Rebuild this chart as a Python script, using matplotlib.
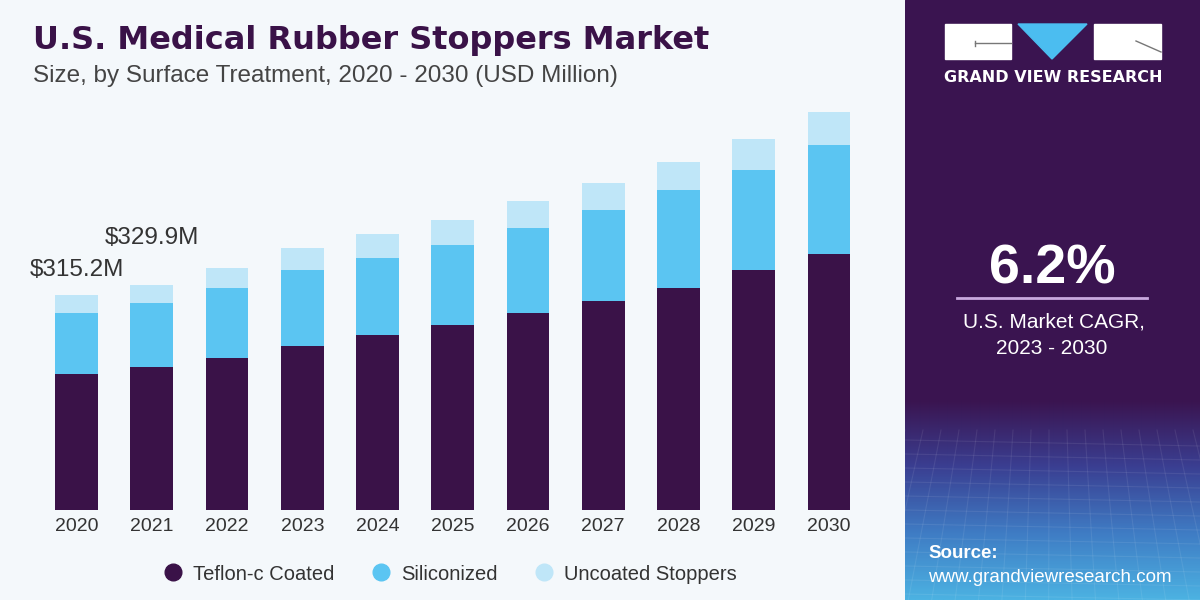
import numpy as np
import matplotlib.pyplot as plt
from matplotlib.lines import Line2D
from matplotlib.patches import Rectangle, Polygon
from matplotlib.colors import LinearSegmentedColormap

years = ['2020', '2021', '2022', '2023', '2024', '2025', '2026', '2027', '2028', '2029', '2030']
teflon = [199.4, 209.6, 222.8, 240.4, 256.6, 271.2, 288.8, 306.4, 325.5, 351.9, 375.3]
silicon = [89.4, 93.9, 102.7, 111.5, 112.8, 117.3, 124.6, 133.4, 143.6, 146.6, 159.8]
uncoated = [26.4, 26.4, 29.3, 32.2, 35.2, 36.7, 39.6, 39.6, 41.1, 45.4, 48.4]
series_names = ['Teflon-c Coated', 'Siliconized', 'Uncoated Stoppers']
labelled = {0: '$315.2M', 1: '$329.9M'}

c_dark = '#3a1248'
c_blue = '#5bc5f2'
c_light = '#bfe6f8'
bg = '#f4f8fb'
panel = '#3a1450'

W, H = 1200, 600
fig = plt.figure(figsize=(12, 6), dpi=100)
fig.patch.set_facecolor(bg)

# bar chart axes, px coords: x 0..905, y from 100 to 510 (from top)
ax = fig.add_axes([0, 90 / H, 905 / W, 410 / H])
ax.set_facecolor(bg)
x = np.arange(len(years))
bw = 0.57
t = np.array(teflon)
s = np.array(silicon)
u = np.array(uncoated)
ax.bar(x, t, bw, color=c_dark, label=series_names[0])
ax.bar(x, s, bw, bottom=t, color=c_blue, label=series_names[1])
ax.bar(x, u, bw, bottom=t + s, color=c_light, label=series_names[2])
ax.set_xlim(-76.5 / 75.25, (905 - 76.5) / 75.25)
ax.set_ylim(0, 601.1)
for sp in ax.spines.values():
    sp.set_visible(False)
ax.set_yticks([])
ax.set_xticks(x)
ax.set_xticklabels(years, fontsize=14, color='#333333', family='Liberation Sans')
ax.tick_params(axis='x', length=0, pad=6)

tot = t + s + u
ax.text(-0.62, tot[0] + 37, labelled[0], ha='left', va='center', fontsize=17.5,
        color='#333333', family='Liberation Sans')
ax.text(0.37, tot[1] + 69, labelled[1], ha='left', va='center', fontsize=17.5,
        color='#333333', family='Liberation Sans')

# titles
fig.text(33 / W, 1 - 40 / H, 'U.S. Medical Rubber Stoppers Market', fontsize=23,
         fontweight='bold', color='#3a1248', family='DejaVu Sans', va='center')
fig.text(33 / W, 1 - 76 / H, 'Size, by Surface Treatment, 2020 - 2030 (USD Million)',
         fontsize=17.5, color='#444444', family='Liberation Sans', va='center')

# legend
cols = [c_dark, c_blue, c_light]
handles = [Line2D([], [], marker='o', ls='', color=c, markersize=12) for c in cols]
fig.legend(handles, series_names, loc='center', bbox_to_anchor=(450 / W, 1 - 574 / H),
           ncol=3, frameon=False, handlelength=1.0, handletextpad=0.5, columnspacing=1.8,
           prop={'family': 'Liberation Sans', 'size': 14.5}, labelcolor='#333333')

# right panel in pixel coords
pax = fig.add_axes([905 / W, 0, 295 / W, 1])
pax.set_xlim(905, 1200)
pax.set_ylim(600, 0)
pax.axis('off')
pax.add_patch(Rectangle((905, 0), 295, 600, color=panel, zorder=0))
cmap = LinearSegmentedColormap.from_list('g', [panel, '#3a3f92', '#3f7cc4', '#4cb2e2'])
grad = np.linspace(0, 1, 200).reshape(-1, 1)
pax.imshow(grad, extent=(905, 1200, 600, 400), cmap=cmap, aspect='auto', zorder=1,
           interpolation='bilinear', origin='upper')
# faint mesh lines
for yy in np.arange(440, 600, 14):
    pax.plot([905, 1200], [yy, yy + 6], color='white', alpha=0.08, lw=0.8, zorder=2)
for xx in np.arange(905, 1200, 18):
    pax.plot([xx, xx + (xx - 1050) * 0.3], [430, 600], color='white', alpha=0.08, lw=0.8, zorder=2)

# logo
pax.add_patch(Rectangle((945, 24), 66, 35, color='white', zorder=3))
pax.add_patch(Rectangle((1094, 24), 67, 35, color='white', zorder=3))
pax.add_patch(Polygon([(1018, 24), (1087, 24), (1052, 59)], color='#4bbdf0', zorder=3))
pax.plot([975, 1011], [43, 43], color='#777777', lw=1, zorder=4)
pax.plot([975, 975], [41, 46], color='#777777', lw=1, zorder=4)
pax.plot([1136, 1161], [41, 52], color='#777777', lw=1, zorder=4)
pax.text(1053, 78, 'GRAND VIEW RESEARCH', ha='center', va='center', color='white',
         fontsize=11.5, fontweight='bold', family='DejaVu Sans')

pax.text(1052, 270, '6.2%', ha='center', va='center', color='white', fontsize=40,
         fontweight='bold', family='Liberation Sans')
pax.plot([957, 1147], [298, 298], color='#c9a9df', lw=2, zorder=3)
pax.text(1054, 322, 'U.S. Market CAGR,', ha='center', va='center', color='white',
         fontsize=15, family='Liberation Sans')
pax.text(1052, 348, '2023 - 2030', ha='center', va='center', color='white',
         fontsize=15, family='Liberation Sans')
pax.text(928, 553, 'Source:', ha='left', va='center', color='white', fontsize=13.5,
         fontweight='bold', family='Liberation Sans', zorder=5)
pax.text(928, 577, 'www.grandviewresearch.com', ha='left', va='center', color='white',
         fontsize=13.5, family='Liberation Sans', zorder=5)

fig.savefig('out.png', dpi=100, facecolor=fig.get_facecolor())
